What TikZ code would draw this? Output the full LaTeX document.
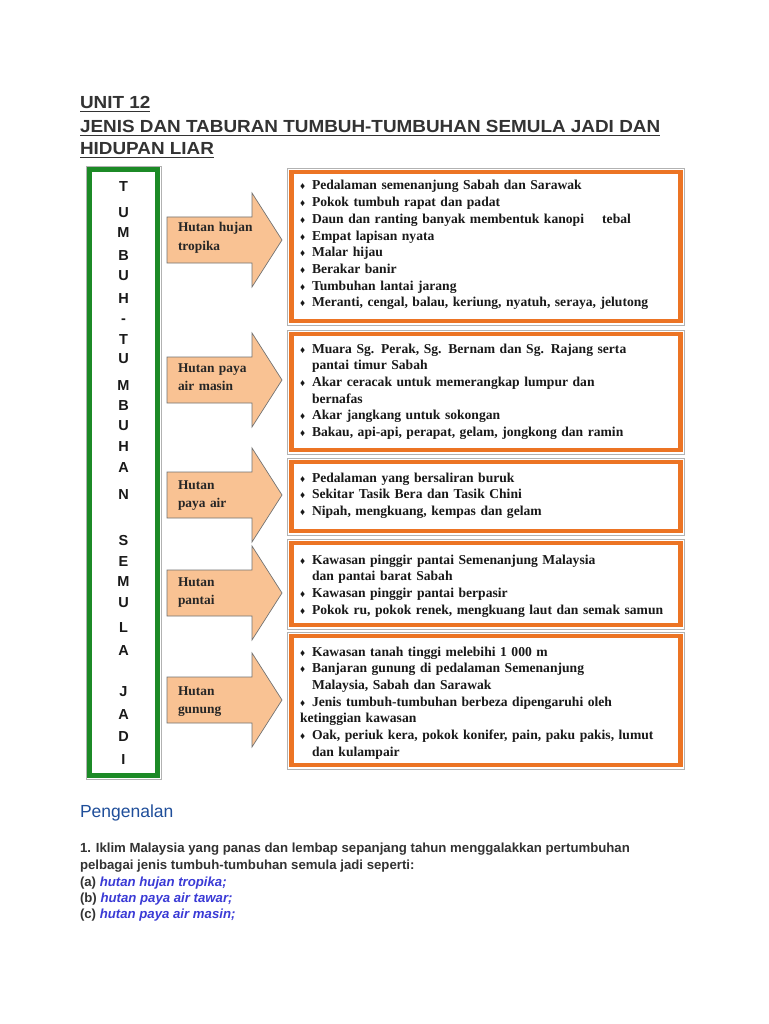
\documentclass[tikz,border=0pt]{standalone}
\usepackage{fontspec}
\setmainfont{Liberation Serif}
\newfontfamily\arial{Liberation Sans}
\newfontfamily\arialwide[FakeStretch=1.08]{Liberation Sans}
\definecolor{titlegrey}{HTML}{333333}
\definecolor{boxorange}{HTML}{EC7424}
\definecolor{boxgreen}{HTML}{1C8A26}
\definecolor{arrowfill}{HTML}{F9C293}
\definecolor{headblue}{HTML}{1F4E9A}
\definecolor{itemblue}{HTML}{3B3BD6}
\newcommand\bul{\makebox[12pt][l]{\fontsize{10}{10}\selectfont\char"2666}}
\newcommand\ind{\hspace*{12pt}}
\newcommand\itm[1]{{\color{itemblue}\itshape #1}}
\begin{document}
\begin{tikzpicture}[x=1pt,y=-1pt,
  every node/.style={inner sep=0pt, outer sep=0pt},
  titletext/.style={anchor=base west, text=titlegrey, font=\arialwide\bfseries\fontsize{17.5}{20}\selectfont},
  infobox/.style={draw=boxorange, line width=4.5pt},
  outerline/.style={draw=black!30, line width=0.8pt},
  boxtext/.style={anchor=base west, text width=380pt, align=left, font=\bfseries\fontsize{13.6}{16.7}\selectfont, text=black!90},
  arrowtext/.style={anchor=base west, text width=80pt, align=left, font=\bfseries\fontsize{13.4}{18}\selectfont, text=black!85},
  arrowbody/.style={draw=black!55, line width=0.7pt, fill=arrowfill},
  letter/.style={anchor=base, font=\arial\bfseries\fontsize{14.5}{14}\selectfont, text=black!90},
  paratext/.style={anchor=base west, font=\arial\bfseries\fontsize{13.2}{15}\selectfont, text=titlegrey}
]
\useasboundingbox (0,0) rectangle (768,1024);
\fill[white] (0,0) rectangle (768,1024);

% ---------- title ----------
\node[titletext] (ti1) at (80,109) {UNIT 12};
\node[titletext] (ti2) at (80,133) {JENIS DAN TABURAN TUMBUH-TUMBUHAN SEMULA JADI DAN\ };
\node[titletext] (ti3) at (80,155) {HIDUPAN LIAR};
\foreach \t in {ti1,ti2,ti3}{
  \draw[titlegrey, line width=1.3pt] ([yshift=-2.8pt]\t.base west) -- ([yshift=-2.8pt]\t.base east);
}

% ---------- green column ----------
\draw[outerline] (86,166) rectangle (161,779);
\draw[draw=boxgreen, line width=4.5pt] (89.5,169.5) rectangle (157.5,775.5);
\foreach \ch/\yy [count=\i] in {T/192,U/218,M/237,B/260,U/280,H/303,-/323,T/344,U/363,M/390,B/410,U/430,H/451,A/472,N/499,S/545,E/566,M/586,U/607,L/632,A/655,J/696,A/719,D/741,I/764}{
  \node[letter] (l\i) at (123.5,\yy) {\ch};
}

% ---------- block arrows ----------
\foreach \c/\n in {240/1,380/2,495/3,593/4,700/5}{
  \coordinate (ar\n) at (282,\c);
  \draw[arrowbody] (167,\c-23) -- (252,\c-23) -- (252,\c-47) -- (ar\n) -- (252,\c+47) -- (252,\c+23) -- (167,\c+23) -- cycle;
}
\node[arrowtext] (at1) at (178,232) {Hutan hujan\\tropika};
\node[arrowtext] (at2) at (178,372) {Hutan paya\\air masin};
\node[arrowtext] (at3) at (178,489) {Hutan\\paya air};
\node[arrowtext] (at4) at (178,586) {Hutan\\pantai};
\node[arrowtext] (at5) at (178,695) {Hutan\\gunung};

% ---------- info boxes ----------
\foreach \n/\ya/\yb in {1/172/321,2/334/450,3/462/531,4/543/625,5/636/765}{
  \draw[outerline] (287.5,\ya-4) rectangle (684.5,\yb+4);
  \draw[infobox] (291.5,\ya) rectangle (680.5,\yb);
  \coordinate (bx\n) at (291.5,\ya);
}
\node[boxtext] (tx1) at (300,190) {\bul Pedalaman semenanjung Sabah dan Sarawak\\
\bul Pokok tumbuh rapat dan padat\\
\bul Daun dan ranting banyak membentuk kanopi \ \ \ tebal\\
\bul Empat lapisan nyata\\
\bul Malar hijau\\
\bul Berakar banir\\
\bul Tumbuhan lantai jarang\\
\bul Meranti, cengal, balau, keriung, nyatuh, seraya, jelutong};
\node[boxtext] (tx2) at (300,353) {\bul Muara Sg. Perak, Sg. Bernam dan Sg. Rajang serta\\
\ind pantai timur Sabah\\
\bul Akar ceracak untuk memerangkap lumpur dan\\
\ind bernafas\\
\bul Akar jangkang untuk sokongan\\
\bul Bakau, api-api, perapat, gelam, jongkong dan ramin};
\node[boxtext] (tx3) at (300,482) {\bul Pedalaman yang bersaliran buruk\\
\bul Sekitar Tasik Bera dan Tasik Chini\\
\bul Nipah, mengkuang, kempas dan gelam};
\node[boxtext] (tx4) at (300,564) {\bul Kawasan pinggir pantai Semenanjung Malaysia\\
\ind dan pantai barat Sabah\\
\bul Kawasan pinggir pantai berpasir\\
\bul Pokok ru, pokok renek, mengkuang laut dan semak samun};
\node[boxtext] (tx5) at (300,656) {\bul Kawasan tanah tinggi melebihi 1 000 m\\
\bul Banjaran gunung di pedalaman Semenanjung\\
\ind Malaysia, Sabah dan Sarawak\\
\bul Jenis tumbuh-tumbuhan berbeza dipengaruhi oleh\\
ketinggian kawasan\\
\bul Oak, periuk kera, pokok konifer, pain, paku pakis, lumut\\
\ind dan kulampair};

% ---------- text below ----------
\node[anchor=base west, font=\arial\fontsize{17.5}{18}\selectfont, text=headblue] (pg) at (80,817) {Pengenalan};
\node[paratext] (p1) at (80,852) {1. Iklim Malaysia yang panas dan lembap sepanjang tahun menggalakkan pertumbuhan};
\node[paratext] (p2) at (80,869) {pelbagai jenis tumbuh-tumbuhan semula jadi seperti:};
\node[paratext] (pa) at (80,886) {(a) \itm{hutan hujan tropika;}};
\node[paratext] (pb) at (80,902) {(b) \itm{hutan paya air tawar;}};
\node[paratext] (pc) at (80,918) {(c) \itm{hutan paya air masin;}};
\end{tikzpicture}
\end{document}
